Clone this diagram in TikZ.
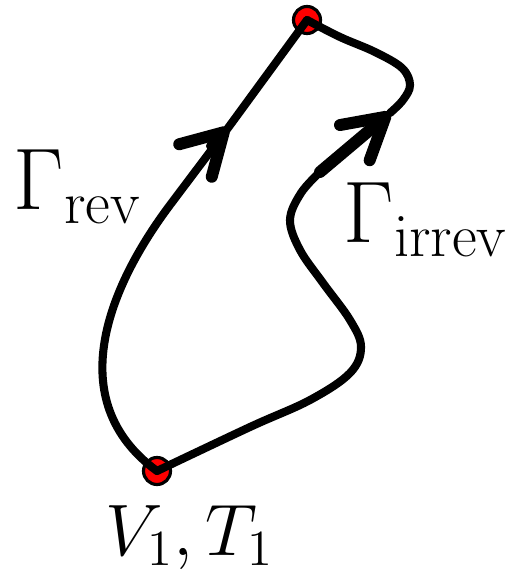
\documentclass[tikz,border=0pt]{standalone}
\usetikzlibrary{arrows.meta, calc}
\tikzset{
  path line/.style={line width=2.3pt, line cap=round, line join=round},
  state dot/.style={circle, draw=black, fill=red, line width=0.9pt, minimum size=0.27cm, inner sep=0pt},
  barb/.style={-{Straight Barb[length=4mm, width=4.6mm, line width=3.4pt, round]}},
  lbl/.style={inner sep=0pt, anchor=base west},
}
\begin{document}
\begin{tikzpicture}[x=0.01cm, y=-0.01cm]
    \useasboundingbox (0,0) rectangle (523,574);

    % end states
    \node[state dot] (A) at (307,20) {};
    \node[state dot] (B) at (157,471) {};

    % reversible path
    \coordinate (kL) at (210,146);
    \coordinate (tipL) at (228,128);
    \draw[path line] (B.center) .. controls (60,400) and (110,285) .. (170,205) -- (tipL) -- (A.center);
    \draw[path line, barb] (kL) -- (tipL);

    % irreversible path
    \coordinate (kR) at (320,172);
    \coordinate (tipR) at (390,113);
    \draw[path line] plot[smooth, tension=0.6] coordinates {(B.center) (250,427) (310,400) (350,373) (361,347) (350,320) (323,283) (300,250) (290,220) (301,193) (kR)};
    \draw[path line, line width=3.4pt, barb] (kR) -- (tipR);
    \draw[path line] plot[smooth, tension=0.6] coordinates {(tipR) (403,100) (410,85) (402,68) (375,52) (340,37) (A.center)};

    % labels
    \node[lbl, font=\fontsize{23}{26}\selectfont] (rev) at (13,210) {$\Gamma_{\mathrm{rev}}$};
    \node[lbl, font=\fontsize{23}{26}\selectfont] (irrev) at (343,243) {$\Gamma_{\mathrm{irrev}}$};
    \node[lbl, font=\fontsize{20.5}{24}\selectfont] (state) at (105,555) {$V_1, T_1$};
\end{tikzpicture}
\end{document}
